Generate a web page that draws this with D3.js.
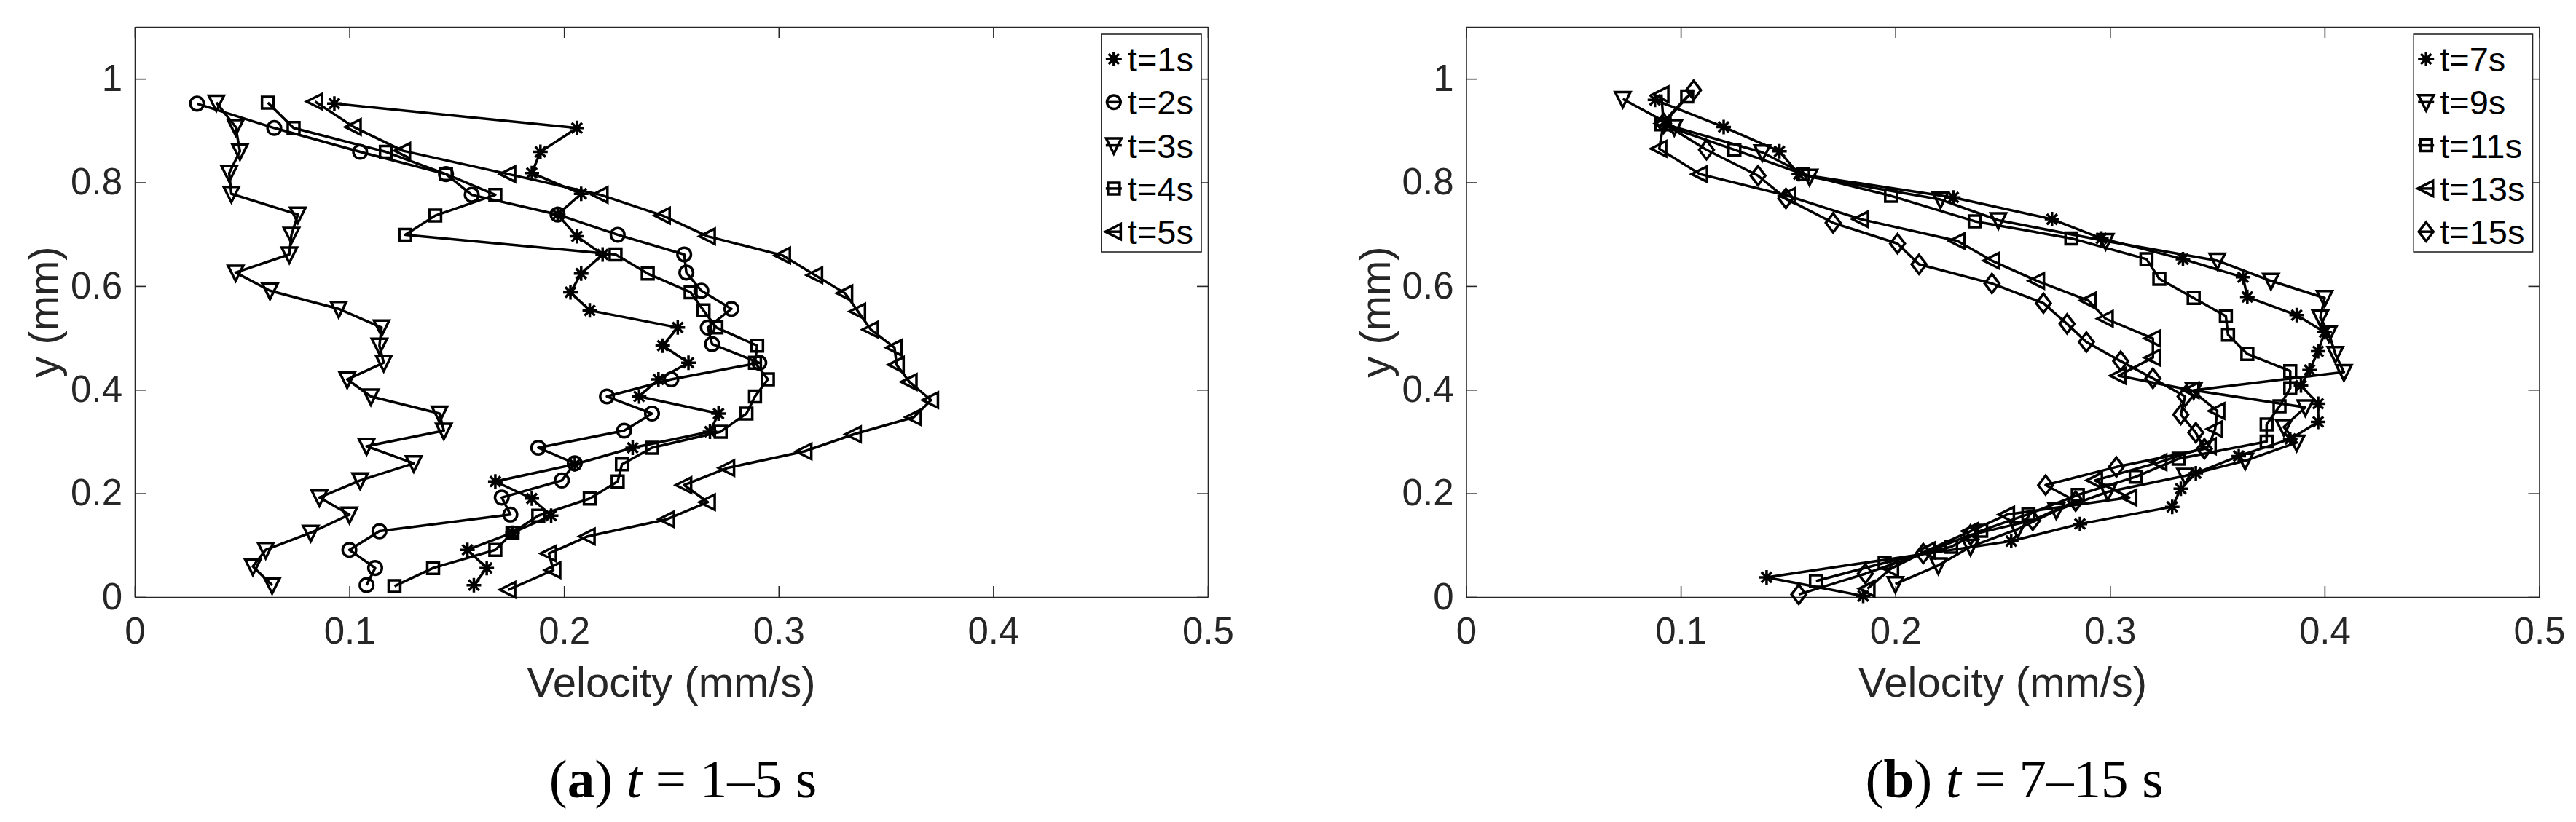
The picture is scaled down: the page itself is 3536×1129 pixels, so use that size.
<!DOCTYPE html>
<html>
<head>
<meta charset="utf-8">
<script src="https://cdn.jsdelivr.net/npm/d3@7"></script>
<style>
body { margin: 0; background: #fff; }
svg { display: block; }
</style>
</head>
<body>
<div id="visContainer"></div>
<script>
'use strict';

// tick labels
var X_TICKS = [0, 0.1, 0.2, 0.3, 0.4, 0.5];
var Y_TICKS = [0, 0.2, 0.4, 0.6, 0.8, 1];

// panel (a): t = 1-5 s
var LABELS_A = ["t=1s", "t=2s", "t=3s", "t=4s", "t=5s"];
var MARKERS_A = ["star", "circle", "triDown", "square", "triLeft"];

var vel_t1 = [0.093, 0.206, 0.189, 0.185, 0.208, 0.197, 0.206, 0.218, 0.208, 0.203, 0.212, 0.253, 0.246, 0.258, 0.244, 0.235, 0.272, 0.268, 0.232, 0.205, 0.168, 0.185, 0.194, 0.176, 0.155, 0.164, 0.158];
var y_t1 = [0.952, 0.905, 0.859, 0.818, 0.778, 0.738, 0.696, 0.661, 0.624, 0.588, 0.553, 0.520, 0.485, 0.452, 0.420, 0.387, 0.354, 0.319, 0.288, 0.256, 0.223, 0.190, 0.157, 0.124, 0.091, 0.056, 0.023];

var vel_t2 = [0.029, 0.065, 0.105, 0.145, 0.157, 0.197, 0.225, 0.256, 0.257, 0.264, 0.278, 0.267, 0.269, 0.291, 0.250, 0.220, 0.241, 0.228, 0.188, 0.205, 0.199, 0.171, 0.175, 0.114, 0.100, 0.112, 0.108];
var y_t2 = [0.952, 0.905, 0.859, 0.816, 0.776, 0.738, 0.699, 0.661, 0.626, 0.591, 0.556, 0.520, 0.488, 0.452, 0.420, 0.387, 0.354, 0.321, 0.288, 0.258, 0.225, 0.192, 0.159, 0.127, 0.091, 0.056, 0.023];

var vel_t3 = [0.038, 0.047, 0.049, 0.044, 0.045, 0.076, 0.073, 0.072, 0.047, 0.063, 0.095, 0.115, 0.114, 0.116, 0.099, 0.110, 0.142, 0.144, 0.108, 0.130, 0.105, 0.086, 0.100, 0.082, 0.061, 0.055, 0.064];
var y_t3 = [0.954, 0.907, 0.860, 0.818, 0.778, 0.738, 0.699, 0.661, 0.626, 0.591, 0.556, 0.520, 0.485, 0.452, 0.420, 0.387, 0.354, 0.321, 0.291, 0.258, 0.225, 0.192, 0.159, 0.124, 0.091, 0.059, 0.023];

var vel_t4 = [0.062, 0.074, 0.117, 0.145, 0.168, 0.140, 0.126, 0.224, 0.239, 0.259, 0.265, 0.271, 0.290, 0.289, 0.295, 0.289, 0.285, 0.273, 0.241, 0.227, 0.225, 0.212, 0.188, 0.176, 0.168, 0.139, 0.121];
var y_t4 = [0.954, 0.905, 0.859, 0.816, 0.776, 0.736, 0.699, 0.661, 0.624, 0.588, 0.553, 0.520, 0.485, 0.452, 0.420, 0.387, 0.354, 0.319, 0.288, 0.256, 0.223, 0.190, 0.157, 0.124, 0.091, 0.056, 0.021];

var vel_t5 = [0.084, 0.102, 0.125, 0.174, 0.217, 0.246, 0.267, 0.302, 0.317, 0.331, 0.337, 0.343, 0.354, 0.355, 0.361, 0.371, 0.363, 0.335, 0.312, 0.276, 0.256, 0.267, 0.248, 0.211, 0.193, 0.195, 0.174];
var y_t5 = [0.956, 0.907, 0.861, 0.816, 0.776, 0.736, 0.696, 0.659, 0.621, 0.586, 0.551, 0.516, 0.481, 0.448, 0.415, 0.380, 0.347, 0.314, 0.281, 0.249, 0.216, 0.183, 0.150, 0.117, 0.084, 0.052, 0.014];

// panel (b): t = 7-15 s
var LABELS_B = ["t=7s", "t=9s", "t=11s", "t=13s", "t=15s"];
var MARKERS_B = ["star", "triDown", "square", "triLeft", "diamond"];

var vel_t7 = [0.088, 0.120, 0.146, 0.155, 0.227, 0.273, 0.296, 0.334, 0.362, 0.364, 0.387, 0.400, 0.397, 0.393, 0.389, 0.397, 0.397, 0.384, 0.360, 0.340, 0.333, 0.329, 0.286, 0.254, 0.140, 0.185];
var y_t7 = [0.959, 0.907, 0.860, 0.816, 0.771, 0.729, 0.692, 0.652, 0.617, 0.579, 0.544, 0.511, 0.474, 0.438, 0.408, 0.373, 0.338, 0.305, 0.272, 0.239, 0.209, 0.174, 0.141, 0.108, 0.038, 0.002];

var vel_t9 = [0.073, 0.097, 0.138, 0.160, 0.221, 0.248, 0.298, 0.350, 0.375, 0.400, 0.398, 0.402, 0.405, 0.409, 0.339, 0.391, 0.381, 0.387, 0.363, 0.335, 0.299, 0.275, 0.257, 0.235, 0.220, 0.200];
var y_t9 = [0.961, 0.907, 0.858, 0.811, 0.767, 0.727, 0.687, 0.649, 0.610, 0.577, 0.539, 0.509, 0.469, 0.434, 0.399, 0.366, 0.328, 0.298, 0.263, 0.234, 0.203, 0.167, 0.131, 0.097, 0.061, 0.025];

var vel_t11 = [0.103, 0.091, 0.125, 0.157, 0.198, 0.237, 0.282, 0.317, 0.323, 0.339, 0.354, 0.355, 0.364, 0.384, 0.384, 0.379, 0.373, 0.373, 0.332, 0.312, 0.285, 0.262, 0.240, 0.226, 0.195, 0.163];
var y_t11 = [0.966, 0.912, 0.863, 0.816, 0.774, 0.725, 0.692, 0.652, 0.614, 0.577, 0.542, 0.506, 0.469, 0.436, 0.403, 0.368, 0.333, 0.300, 0.267, 0.232, 0.197, 0.160, 0.128, 0.097, 0.066, 0.031];

var vel_t13 = [0.091, 0.092, 0.090, 0.109, 0.150, 0.184, 0.229, 0.245, 0.266, 0.290, 0.298, 0.320, 0.320, 0.304, 0.338, 0.350, 0.349, 0.346, 0.323, 0.293, 0.309, 0.252, 0.235, 0.215, 0.198, 0.187];
var y_t13 = [0.970, 0.914, 0.865, 0.816, 0.774, 0.729, 0.687, 0.649, 0.610, 0.572, 0.537, 0.499, 0.462, 0.427, 0.399, 0.359, 0.324, 0.291, 0.260, 0.225, 0.192, 0.159, 0.127, 0.090, 0.055, 0.016];

var vel_t15 = [0.106, 0.092, 0.112, 0.136, 0.149, 0.171, 0.201, 0.211, 0.245, 0.269, 0.280, 0.289, 0.305, 0.320, 0.335, 0.333, 0.340, 0.344, 0.303, 0.270, 0.284, 0.264, 0.235, 0.213, 0.186, 0.155];
var y_t15 = [0.978, 0.914, 0.863, 0.813, 0.769, 0.722, 0.682, 0.642, 0.605, 0.567, 0.527, 0.492, 0.455, 0.422, 0.387, 0.352, 0.317, 0.286, 0.251, 0.216, 0.185, 0.148, 0.120, 0.084, 0.045, 0.005];

var AXIS_COLOR = "#262626";
var SANS = "'Liberation Sans', Arial, Helvetica, sans-serif";
var SERIF = "'Liberation Serif', 'Times New Roman', Times, serif";

// marker outlines, drawn around (0,0)
function markerPath(type) {
    if (type == "star") {
        var r = 10, c = 7.1;
        return "M0," + (-r) + "V" + r + "M" + (-r) + ",0H" + r +
               "M" + (-c) + "," + (-c) + "L" + c + "," + c +
               "M" + (-c) + "," + c + "L" + c + "," + (-c);
    }
    if (type == "circle") {
        return "M9.3,0A9.3,9.3 0 1 1 -9.3,0A9.3,9.3 0 1 1 9.3,0Z";
    }
    if (type == "square") {
        return "M-8,-8H8V8H-8Z";
    }
    if (type == "triDown") {
        return "M-10.5,-9.5L10.5,-9.5L0,11.5Z";
    }
    if (type == "triLeft") {
        return "M9.5,-10.5L9.5,10.5L-11.5,0Z";
    }
    if (type == "diamond") {
        return "M0,-13L10,0L0,13L-10,0Z";
    }
}

function draw_panel(svg, left, series, labels, markers, captionLetter, captionRange) {
    var width = 1473, top = 37, bottom = 820;
    var x = d3.scaleLinear().domain([0, 0.5]).range([left, left + width]);
    var y = d3.scaleLinear().domain([0, 1.1]).range([bottom, top]);
    var fmt = function(d) { return String(d); };

    var g = svg.append("g");

    function styleAxis(a) {
        a.attr("font-family", SANS).attr("font-size", 51).attr("color", AXIS_COLOR);
        a.select(".domain").attr("stroke-width", 1.6);
        a.selectAll(".tick line").attr("stroke-width", 1.6);
    }

    g.append("g")
        .attr("transform", "translate(0," + bottom + ")")
        .call(d3.axisBottom(x).tickValues(X_TICKS).tickSizeInner(-15).tickSizeOuter(0).tickPadding(28).tickFormat(fmt))
        .call(styleAxis);
    g.append("g")
        .attr("transform", "translate(0," + top + ")")
        .call(d3.axisTop(x).tickValues(X_TICKS).tickSizeInner(-15).tickSizeOuter(0).tickFormat(""))
        .call(styleAxis);
    g.append("g")
        .attr("transform", "translate(" + left + ",0)")
        .call(d3.axisLeft(y).tickValues(Y_TICKS).tickSizeInner(-15).tickSizeOuter(0).tickPadding(17).tickFormat(fmt))
        .call(styleAxis);
    g.append("g")
        .attr("transform", "translate(" + (left + width) + ",0)")
        .call(d3.axisRight(y).tickValues(Y_TICKS).tickSizeInner(-15).tickSizeOuter(0).tickFormat(""))
        .call(styleAxis);

    // axis titles
    g.append("text")
        .attr("x", left + width / 2).attr("y", 957)
        .attr("text-anchor", "middle")
        .attr("font-family", SANS).attr("font-size", 58).attr("fill", AXIS_COLOR)
        .text("Velocity (mm/s)");
    g.append("text")
        .attr("transform", "translate(" + (left - 105) + "," + ((top + bottom) / 2) + ") rotate(-90)")
        .attr("text-anchor", "middle")
        .attr("font-family", SANS).attr("font-size", 58).attr("fill", AXIS_COLOR)
        .text("y (mm)");

    // curves
    var line = d3.line()
        .x(function(d) { return x(d[0]); })
        .y(function(d) { return y(d[1]); });

    for (var i = 0; i < series.length; i++) {
        var pts = d3.zip(series[i][0], series[i][1]);
        var s = g.append("g");
        s.append("path")
            .datum(pts)
            .attr("d", line)
            .attr("fill", "none")
            .attr("stroke", "#000")
            .attr("stroke-width", 3.5)
            .attr("stroke-linejoin", "round");
        s.selectAll(".mk")
            .data(pts)
          .enter().append("path")
            .attr("class", "mk")
            .attr("transform", function(d) { return "translate(" + x(d[0]) + "," + y(d[1]) + ")"; })
            .attr("d", markerPath(markers[i]))
            .attr("fill", "none")
            .attr("stroke", "#000")
            .attr("stroke-width", 3.5);
    }

    // legend
    var lg = g.append("g");
    var box = lg.append("rect");
    var maxW = 0;
    var entries = [];
    for (var j = 0; j < labels.length; j++) {
        var ey = 81 + j * 59.3;
        var t = lg.append("text")
            .attr("y", ey).attr("dy", "0.36em")
            .attr("font-family", SANS).attr("font-size", 47).attr("fill", "#000")
            .text(labels[j]);
        maxW = Math.max(maxW, t.node().getComputedTextLength());
        entries.push({text: t, y: ey, marker: markers[j]});
    }
    var boxW = 36 + maxW + 11;
    var boxX = left + width - 9 - boxW;
    box.attr("x", boxX).attr("y", 47).attr("width", boxW).attr("height", 299)
        .attr("fill", "#fff").attr("stroke", AXIS_COLOR).attr("stroke-width", 1.6);
    entries.forEach(function(e) {
        e.text.attr("x", boxX + 36);
        lg.append("line")
            .attr("x1", boxX + 6).attr("x2", boxX + 28)
            .attr("y1", e.y).attr("y2", e.y)
            .attr("stroke", "#000").attr("stroke-width", 3.5);
        lg.append("path")
            .attr("transform", "translate(" + (boxX + 17) + "," + e.y + ")")
            .attr("d", markerPath(e.marker))
            .attr("fill", "none").attr("stroke", "#000").attr("stroke-width", 3.5);
    });

    // caption below the panel
    var cap = g.append("text")
        .attr("x", left + width / 2 + 16).attr("y", 1095)
        .attr("text-anchor", "middle")
        .attr("font-family", SERIF).attr("font-size", 75).attr("fill", "#000");
    cap.append("tspan").text("(");
    cap.append("tspan").attr("font-weight", "bold").text(captionLetter);
    cap.append("tspan").text(") ");
    cap.append("tspan").attr("font-style", "italic").text("t");
    cap.append("tspan").text(" = " + captionRange + " s");
}

var svg = d3.select("#visContainer")
    .append("svg")
    .attr("width", 3536)
    .attr("height", 1129)
    .style("background", "#fff");

draw_panel(svg, 185,
    [[vel_t1, y_t1], [vel_t2, y_t2], [vel_t3, y_t3], [vel_t4, y_t4], [vel_t5, y_t5]],
    LABELS_A, MARKERS_A, "a", "1\u20135");
draw_panel(svg, 2012.5,
    [[vel_t7, y_t7], [vel_t9, y_t9], [vel_t11, y_t11], [vel_t13, y_t13], [vel_t15, y_t15]],
    LABELS_B, MARKERS_B, "b", "7\u201315");
</script>
</body>
</html>
